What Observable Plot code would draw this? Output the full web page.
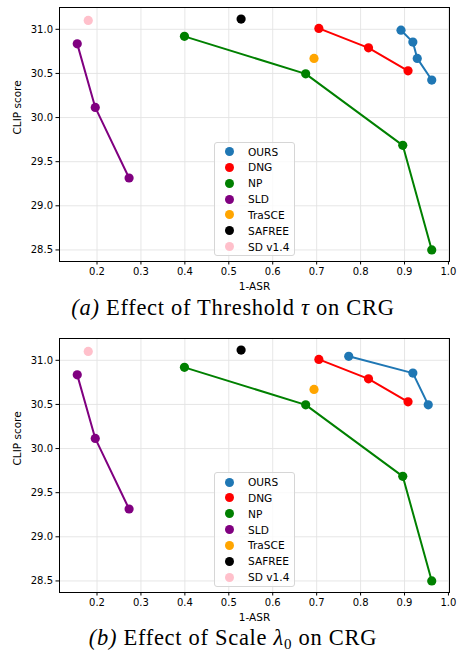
<!DOCTYPE html>
<html>
<head>
<meta charset="utf-8">
<script src="https://cdn.jsdelivr.net/npm/d3@7"></script>
<script src="https://cdn.jsdelivr.net/npm/@observablehq/plot@0.6"></script>
<style>
  html, body { margin: 0; padding: 0; background: #fff; }
  #root { position: relative; width: 461px; height: 651px; overflow: hidden; font-family: "DejaVu Sans", sans-serif; }
  .plot { position: absolute; left: 0; }
  .caption { position: absolute; left: 2.5px; width: 461px; text-align: center; font-family: "Liberation Serif", serif; font-size: 22.5px; line-height: 22.5px; letter-spacing: 0.7px; color: #000; white-space: nowrap; }
  .legend { position: absolute; box-sizing: border-box; border: 1px solid #d6d6d6; border-radius: 3px; background: rgba(255,255,255,0.8); font-family: "DejaVu Sans", sans-serif; font-size: 10.6px; color: #000; }
  .legend .row { position: absolute; left: 0; height: 14px; line-height: 14px; white-space: nowrap; }
  .legend .sw { position: absolute; left: 10px; top: 2.5px; width: 9px; height: 9px; border-radius: 50%; }
  .legend .lb { position: absolute; left: 33.5px; top: 0; }
</style>
</head>
<body>
<div id="root"></div>
<script>
// ---- data ----
const methods = ["OURS", "DNG", "NP", "SLD", "TraSCE", "SAFREE", "SD v1.4"];
const methodColors = ["#1f77b4", "#ff0000", "#008000", "#800080", "#ffa500", "#000000", "#ffc0cb"];

// (a) Effect of Threshold
const oursA_x = [0.892, 0.919, 0.929, 0.962];
const oursA_y = [30.99, 30.855, 30.67, 30.425];
// (b) Effect of Scale
const oursB_x = [0.773, 0.919, 0.954];
const oursB_y = [31.045, 30.855, 30.495];

const dng_x = [0.705, 0.818, 0.908];
const dng_y = [31.01, 30.79, 30.53];
const np_x = [0.399, 0.675, 0.896, 0.962];
const np_y = [30.92, 30.495, 29.685, 28.50];
const sld_x = [0.155, 0.196, 0.273];
const sld_y = [30.835, 30.115, 29.315];
const trasce_x = [0.694];
const trasce_y = [30.67];
const safree_x = [0.528];
const safree_y = [31.116];
const sd_x = [0.180];
const sd_y = [31.10];

const xTicks = [0.2, 0.3, 0.4, 0.5, 0.6, 0.7, 0.8, 0.9, 1.0];
const yTicks = [28.5, 29.0, 29.5, 30.0, 30.5, 31.0];
const xLabel = "1-ASR";
const yLabel = "CLIP score";

function series(name, xs, ys) {
  return xs.map((x, i) => ({method: name, x, y: ys[i]}));
}

function buildPlot(oursX, oursY) {
  const groups = [
    series("OURS", oursX, oursY),
    series("DNG", dng_x, dng_y),
    series("NP", np_x, np_y),
    series("SLD", sld_x, sld_y),
    series("TraSCE", trasce_x, trasce_y),
    series("SAFREE", safree_x, safree_y),
    series("SD v1.4", sd_x, sd_y)
  ];
  const marks = [
    Plot.gridX(xTicks, {stroke: "#e3e3e3", strokeOpacity: 1, strokeWidth: 0.9}),
    Plot.gridY(yTicks, {stroke: "#e3e3e3", strokeOpacity: 1, strokeWidth: 0.9})
  ];
  groups.forEach(g => {
    if (g.length > 1) marks.push(Plot.line(g, {x: "x", y: "y", stroke: "method", strokeWidth: 2}));
    marks.push(Plot.dot(g, {x: "x", y: "y", fill: "method", r: 4.6}));
  });
  marks.push(
    Plot.axisX(xTicks, {tickSize: 3.5, tickPadding: 3, tickFormat: d3.format(".1f"), label: null, fontSize: 10, stroke: "#000"}),
    Plot.axisY(yTicks, {tickSize: 3.5, tickPadding: 3, tickFormat: d3.format(".1f"), label: null, fontSize: 10, stroke: "#000"}),
    Plot.frame({stroke: "#000", strokeWidth: 1}),
    Plot.text([xLabel], {frameAnchor: "bottom", dy: 28, fontSize: 10.5, fill: "#000"}),
    Plot.text([yLabel], {frameAnchor: "left", rotate: -90, dx: -42, fontSize: 10.5, fill: "#000"})
  );
  return Plot.plot({
    width: 461,
    height: 296,
    marginLeft: 59,
    marginRight: 12,
    marginTop: 7,
    marginBottom: 35,
    style: {fontFamily: "DejaVu Sans, sans-serif", fontSize: "10px", color: "#000", background: "transparent"},
    x: {domain: [0.1146, 1.0024]},
    y: {domain: [28.369, 31.247]},
    color: {domain: methods, range: methodColors},
    marks
  });
}

function buildLegend(left, top) {
  const lg = document.createElement("div");
  lg.className = "legend";
  lg.style.left = left + "px";
  lg.style.top = top + "px";
  lg.style.width = "81.5px";
  lg.style.height = "114.5px";
  methods.forEach((m, i) => {
    const row = document.createElement("div");
    row.className = "row";
    row.style.top = (2 + i * 15.85) + "px";
    const sw = document.createElement("div");
    sw.className = "sw";
    sw.style.background = methodColors[i];
    const lb = document.createElement("div");
    lb.className = "lb";
    lb.textContent = m;
    row.appendChild(sw);
    row.appendChild(lb);
    lg.appendChild(row);
  });
  return lg;
}

const root = document.getElementById("root");

const p1 = buildPlot(oursA_x, oursA_y);
p1.classList.add("plot");
p1.style.top = "0px";
root.appendChild(p1);
root.appendChild(buildLegend(213.5, 141.5));

const capA = document.createElement("div");
capA.className = "caption";
capA.style.top = "297px";
capA.innerHTML = "<i>(a)</i> Effect of Threshold <i>τ</i> on CRG";
root.appendChild(capA);

const p2 = buildPlot(oursB_x, oursB_y);
p2.classList.add("plot");
p2.style.top = "330.5px";
root.appendChild(p2);
root.appendChild(buildLegend(213.5, 472));

const capB = document.createElement("div");
capB.className = "caption";
capB.style.top = "627.3px";
capB.innerHTML = "<i>(b)</i> Effect of Scale <i>λ</i><sub style=\"font-size:15px;vertical-align:-4px;line-height:0\">0</sub> on CRG";
root.appendChild(capB);
</script>
</body>
</html>
